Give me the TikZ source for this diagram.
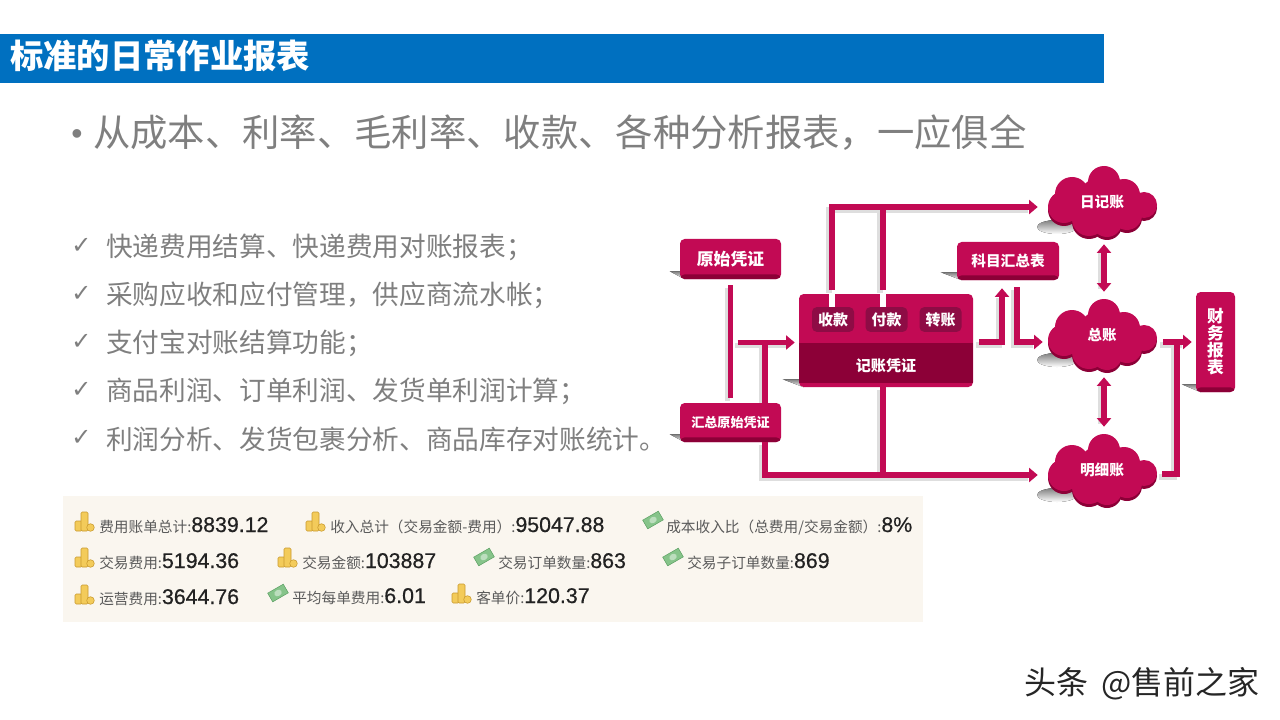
\documentclass[tikz,border=0pt]{standalone}
\usepackage{fontspec}
\setmainfont{Noto Sans CJK SC}
\newfontfamily\numfont[FakeBold=0.6]{Liberation Sans}
\newfontfamily\plainnum{Liberation Sans}
\newfontfamily\symfont{DejaVu Sans}
\usepackage{xcolor}
\usetikzlibrary{arrows.meta}
\usetikzlibrary{backgrounds}

\definecolor{barblue}{HTML}{0070C0}
\definecolor{textgray}{HTML}{7F7F7F}
\definecolor{panelcream}{HTML}{FAF6EF}
\definecolor{crim}{HTML}{C20A54}
\definecolor{crimdark}{HTML}{8C0037}
\definecolor{pilldark}{HTML}{8E0C45}
\definecolor{shade}{HTML}{CFCFCF}
\definecolor{lineshade}{HTML}{DEDEDE}
\definecolor{statgray}{HTML}{5A5A5A}
\definecolor{statnum}{HTML}{222222}
\definecolor{coinfill}{HTML}{F3CB5A}
\definecolor{coinedge}{HTML}{C99A2E}
\definecolor{billfill}{HTML}{86C48A}
\definecolor{billedge}{HTML}{5FA266}

\newcommand{\fsize}[1]{\fontsize{#1}{#1}\selectfont}
\newcommand{\statitem}[2]{{\fsize{11}\color{statgray}#1:}{\numfont\fsize{16}\color{statnum}#2}}
\newcommand{\boxshade}[2]{\begin{scope}[on background layer]
\fill[shade] ([shift={(-#2,-8)}]#1.south west)--([shift={(0,-8)}]#1.south west)--([shift={(5,0)}]#1.south west)--cycle;
\end{scope}}

\tikzset{
  linetext/.style={anchor=west,inner sep=0,text=textgray,font=\fsize{20}},
  checkmark/.style={anchor=west,inner sep=0,text=textgray,font=\symfont\fsize{18}},
  stat/.style={anchor=base west,inner sep=0},
  redbox/.style={fill=crim,rounded corners=3.5pt,inner sep=0,text=white,font=\bfseries\fsize{#1},
    path picture={\fill[crimdark] ([yshift=3.5pt]path picture bounding box.south west) rectangle (path picture bounding box.south east);}},
  pill/.style={fill=pilldark,rounded corners=3.5pt,inner sep=0,text=white,font=\bfseries\fsize{11.2},minimum width=31.5pt,minimum height=18.5pt},
  cloudtext/.style={inner sep=0,text=white,font=\bfseries\fsize{#1},minimum width=82.5pt,minimum height=54pt},
  flow/.style={draw=crim,line width=3.9pt},
  flowshade/.style={draw=lineshade,line width=3.9pt,transform canvas={shift={(-2.2pt,-2.2pt)}}},
  onetip/.style={flow,-{Triangle[length=6.5pt,width=10.5pt]}},
  bothtip/.style={flow,{Triangle[length=6.5pt,width=10.5pt]}-{Triangle[length=6.5pt,width=10.5pt]}},
  coins/.pic={
    \draw[fill=coinfill,draw=coinedge,line width=.4pt,rounded corners=1pt] (0,9) rectangle (7,19);
    \draw[fill=coinfill,draw=coinedge,line width=.4pt,rounded corners=1pt] (6,0) rectangle (13,19);
    \draw[fill=coinfill,draw=coinedge,line width=.4pt] (15.5,15.5) ellipse (3.8 and 3.8);
  },
  bill/.pic={
    \begin{scope}[shift={(10,9)},rotate=30]
    \draw[fill=billfill,draw=billedge,line width=.4pt] (-9,-5) rectangle (9,5);
    \fill[white,opacity=.45] (0,0) ellipse (4 and 3);
    \end{scope}
  },
  cloudblob/.pic={
    \fill[shade] (-45,25) ellipse (20 and 7);
    \foreach \cx/\cy/\cr in {2/-20/16,-30/-8/17,-38/5/16,-13/17/17,5/20/15,25/13/15,42/3/13,22/-7/16,0/0/25}
      \fill[crimdark] (\cx,\cy+3) circle (\cr);
    \foreach \cx/\cy/\cr in {2/-20/16,-30/-8/17,-38/5/16,-13/17/17,5/20/15,25/13/15,42/3/13,22/-7/16,0/0/25}
      \fill[crim] (\cx,\cy) circle (\cr);
  },
}

\begin{document}
\begin{tikzpicture}[x=.75pt,y=-.75pt]
\useasboundingbox (0,0) rectangle (1280,720);

% header
\fill[barblue] (0,34) rectangle (1104,83);
\node[anchor=west,inner sep=0,text=white,font=\bfseries\fsize{25}] (title) at (10,56) {标准的日常作业报表};
\node[anchor=west,inner sep=0,text=textgray,font=\plainnum\fsize{24}] (bullet) at (71,137) {•};
\node[anchor=west,inner sep=0,text=textgray,font=\fsize{28}] (headline) at (93,133) {从成本、利率、毛利率、收款、各种分析报表，一应俱全};

% list
\node[checkmark] (check1) at (71,246) {✓};
\node[checkmark] (check2) at (71,294) {✓};
\node[checkmark] (check3) at (71,342) {✓};
\node[checkmark] (check4) at (71,390) {✓};
\node[checkmark] (check5) at (71,438) {✓};
\node[linetext] (item1) at (106,247) {快递费用结算、快递费用对账报表；};
\node[linetext] (item2) at (106,295) {采购应收和应付管理，供应商流水帐；};
\node[linetext] (item3) at (106,343) {支付宝对账结算功能；};
\node[linetext] (item4) at (106,391) {商品利润、订单利润、发货单利润计算；};
\node[linetext] (item5) at (106,439) {利润分析、发货包裹分析、商品库存对账统计。};

% stats panel
\fill[panelcream] (63,496) rectangle (923,622);
\pic at (75,512) {coins};
\pic at (306,512) {coins};
\pic at (643,511) {bill};
\pic at (75,548) {coins};
\pic at (278,548) {coins};
\pic at (474,548) {bill};
\pic at (663,548) {bill};
\pic at (75,585) {coins};
\pic at (268,584) {bill};
\pic at (452,584) {coins};
\node[stat] (cost) at (99,532) {\statitem{费用账单总计}{8839.12}};
\node[stat] (income) at (330,532) {\statitem{收入总计（交易金额-费用）}{95047.88}};
\node[stat] (ratio) at (666,532) {\statitem{成本收入比（总费用/交易金额）}{8\%}};
\node[stat] (tradefee) at (99,568) {\statitem{交易费用}{5194.36}};
\node[stat] (tradesum) at (302,568) {\statitem{交易金额}{103887}};
\node[stat] (orders) at (498,568) {\statitem{交易订单数量}{863}};
\node[stat] (suborders) at (687,568) {\statitem{交易子订单数量}{869}};
\node[stat] (opfee) at (99,604) {\statitem{运营费用}{3644.76}};
\node[stat] (avgfee) at (292,603) {\statitem{平均每单费用}{6.01}};
\node[stat] (unitprice) at (476,603) {\statitem{客单价}{120.37}};

% boxes
\node[redbox=12.6,minimum width=75.75pt,minimum height=30pt] (yuan) at (730.5,259) {原始凭证};
\node[redbox=9.8,minimum width=75.75pt,minimum height=29.25pt] (huizong) at (730.5,422.5) {汇总原始凭证};
\node[redbox=11,minimum width=76.5pt,minimum height=28.5pt] (kemu) at (1008,261) {科目汇总表};
\node[redbox=12.6,minimum width=29.25pt,minimum height=75pt,align=center,
  font=\bfseries\fontsize{12.5}{12.7}\selectfont] (caiwu) at (1215.5,342) {财\\务\\报\\表};
\node[fill=crim,rounded corners=3.5pt,inner sep=0,minimum width=130.5pt,minimum height=69.75pt] (jizhang) at (886,340.5) {};
\fill[crimdark] (799,343) rectangle (973,383);
\node[inner sep=0,text=white,font=\bfseries\fsize{11.3}] (jizhangtext) at (886,366) {记账凭证};
\node[pill] (shou) at (833,319.5) {收款};
\node[pill] (fu) at (886.5,319.5) {付款};
\node[pill] (zhuan) at (940.5,319.5) {转账};
\boxshade{yuan}{10}
\boxshade{huizong}{10}
\boxshade{kemu}{16}
\boxshade{jizhang}{16}
\boxshade{caiwu}{14}

% clouds
\pic at (1102,202) {cloudblob};
\pic at (1102,335) {cloudblob};
\pic at (1102,470) {cloudblob};
\node[cloudtext=11] (ri) at (1102,202) {日记账};
\node[cloudtext=10.8] (zong) at (1102,335) {总账};
\node[cloudtext=11] (ming) at (1102,470) {明细账};

% connectors
\coordinate (topjoin) at (883,207);
\coordinate (botjoin) at (883,475);
\coordinate (injoin) at (765,342.5);
\coordinate (caijoin) at (1177,342);
\begin{scope}[on background layer]
\draw[flowshade] ([shift={(-1,-17)}]shou.north) |- ([shift={(-16,5)}]ri.west);
\draw[flowshade] ([shift={(-3.5,-17)}]fu.north) -- (topjoin);
\draw[flowshade] ([shift={(0,6)}]yuan.south) -- ([shift={(0,-5)}]huizong.north);
\draw[flowshade] ([shift={(-61,2)}]jizhang.west) -- ([shift={(-10,2)}]jizhang.west);
\draw[flowshade] ([shift={(34.5,0)}]huizong.north) -- (injoin);
\draw[flowshade] ([shift={(34.5,0)}]huizong.south) |- ([shift={(-16,5)}]ming.west);
\draw[flowshade] ([shift={(-3,0)}]jizhang.south) -- (botjoin);
\draw[flowshade] ([shift={(6,1.5)}]jizhang.east) -| ([shift={(-6,15)}]kemu.south);
\draw[flowshade] ([shift={(9,7)}]kemu.south) |- ([shift={(-11,7)}]zong.west);
\draw[flowshade] ([shift={(2,12)}]ri.south) -- ([shift={(2,-13)}]zong.north);
\draw[flowshade] ([shift={(2,12)}]zong.south) -- ([shift={(2,-13)}]ming.north);
\draw[flowshade] ([shift={(6,7)}]zong.east) -- ([shift={(-11,0)}]caiwu.west);
\draw[flowshade] ([shift={(5,4)}]ming.east) -| (caijoin);
\end{scope}
\draw[onetip] ([shift={(-1,-17)}]shou.north) |- ([shift={(-9,5)}]ri.west);
\draw[flow] ([shift={(-3.5,-17)}]fu.north) -- (topjoin);
\draw[flow] ([shift={(0,6)}]yuan.south) -- ([shift={(0,-5)}]huizong.north);
\draw[onetip] ([shift={(-61,2)}]jizhang.west) -- ([shift={(-4,2)}]jizhang.west);
\draw[flow] ([shift={(34.5,0)}]huizong.north) -- (injoin);
\draw[onetip] ([shift={(34.5,0)}]huizong.south) |- ([shift={(-9,5)}]ming.west);
\draw[flow] ([shift={(-3,0)}]jizhang.south) -- (botjoin);
\draw[onetip] ([shift={(6,1.5)}]jizhang.east) -| ([shift={(-6,8)}]kemu.south);
\draw[onetip] ([shift={(9,7)}]kemu.south) |- ([shift={(-4,7)}]zong.west);
\draw[bothtip] ([shift={(2,6)}]ri.south) -- ([shift={(2,-7)}]zong.north);
\draw[bothtip] ([shift={(2,6)}]zong.south) -- ([shift={(2,-7)}]ming.north);
\draw[onetip] ([shift={(6,7)}]zong.east) -- ([shift={(-4,0)}]caiwu.west);
\draw[flow] ([shift={(5,4)}]ming.east) -| (caijoin);
\draw[white,line width=3.9pt] ([shift={(-1,0)}]shou.north) -- ([shift={(-1,-13)}]shou.north);
\draw[white,line width=3.9pt] ([shift={(-3.5,0)}]fu.north) -- ([shift={(-3.5,-13)}]fu.north);

% footer mark
\node[anchor=east,inner sep=0,text=black!85,font=\fsize{24}] (mark) at (1260,684) {头条\hspace{10pt}@售前之家};
\end{tikzpicture}
\end{document}
